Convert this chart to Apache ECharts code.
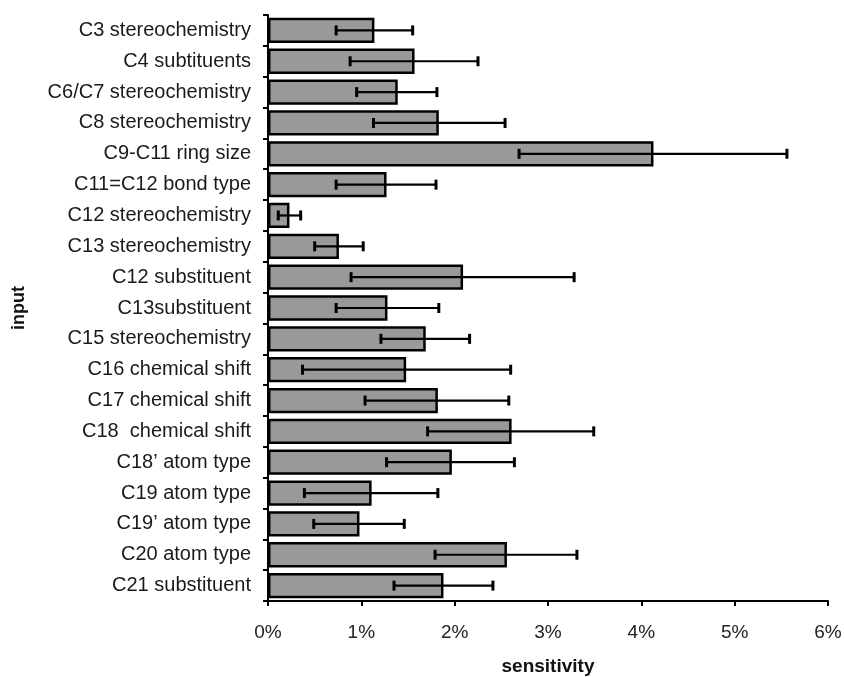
<!DOCTYPE html>
<html>
<head>
<meta charset="utf-8">
<script src="https://cdn.jsdelivr.net/npm/echarts@6/dist/echarts.min.js"></script>
<style>
  html, body { margin: 0; padding: 0; background: #fff; }
  #chart { width: 844px; height: 677px; }
</style>
</head>
<body>
<div id="chart"></div>
<script>
// inputs, top to bottom
const categories = [
  'C3 stereochemistry', 'C4 subtituents', 'C6/C7 stereochemistry', 'C8 stereochemistry',
  'C9-C11 ring size', 'C11=C12 bond type', 'C12 stereochemistry', 'C13 stereochemistry',
  'C12 substituent', 'C13substituent', 'C15 stereochemistry', 'C16 chemical shift',
  'C17 chemical shift', 'C18  chemical shift', 'C18\u2019 atom type', 'C19 atom type',
  'C19\u2019 atom type', 'C20 atom type', 'C21 substituent'
]
// sensitivity in %
const sensitivity = [1.14, 1.57, 1.39, 1.83, 4.13, 1.27, 0.23, 0.76, 2.09, 1.28,
  1.69, 1.48, 1.82, 2.61, 1.97, 1.11, 0.98, 2.56, 1.88]
const errLow = [0.73, 0.88, 0.95, 1.13, 2.69, 0.73, 0.11, 0.50, 0.89, 0.73,
  1.21, 0.37, 1.04, 1.71, 1.27, 0.39, 0.49, 1.79, 1.35]
const errHigh = [1.55, 2.25, 1.81, 2.54, 5.56, 1.80, 0.35, 1.02, 3.28, 1.83,
  2.16, 2.60, 2.58, 3.49, 2.64, 1.82, 1.46, 3.31, 2.41]
const xTicks = [0, 1, 2, 3, 4, 5, 6]

const chart = echarts.init(document.getElementById('chart'))
const fontFam = '"Liberation Sans", Arial, sans-serif'

const errData = categories.map((c, i) => [i, errLow[i], errHigh[i]])

const option = {
  animation: false,
  grid: { left: 268, right: 16, top: 15, bottom: 76, containLabel: false, outerBoundsMode: 'none' },
  xAxis: {
    type: 'value',
    min: xTicks[0],
    max: xTicks[xTicks.length - 1],
    interval: 1,
    name: 'sensitivity',
    nameLocation: 'middle',
    nameGap: 56,
    nameTextStyle: { fontFamily: fontFam, fontSize: 19, fontWeight: 'bold', color: '#111' },
    axisLine: { show: true, lineStyle: { color: '#000', width: 2 } },
    axisTick: { show: true, length: 5, lineStyle: { color: '#000', width: 2 } },
    axisLabel: {
      fontFamily: fontFam, fontSize: 19, color: '#222', margin: 22,
      formatter: v => v + '%'
    },
    splitLine: { show: false }
  },
  yAxis: {
    type: 'category',
    data: categories,
    inverse: true,
    name: 'input',
    nameLocation: 'middle',
    nameGap: 240,
    nameTextStyle: { fontFamily: fontFam, fontSize: 18, fontWeight: 'bold', color: '#111' },
    axisLine: { show: true, lineStyle: { color: '#000', width: 2 } },
    axisTick: { show: true, length: 5, lineStyle: { color: '#000', width: 2 } },
    axisLabel: { fontFamily: fontFam, fontSize: 20, color: '#1a1a1a', margin: 17 },
    splitLine: { show: false }
  },
  series: [
    {
      type: 'bar',
      data: sensitivity,
      barCategoryGap: '18%',
      itemStyle: { color: '#999999', borderColor: '#000', borderWidth: 2.5 }
    },
    {
      type: 'custom',
      data: errData,
      encode: { y: 0, x: [1, 2] },
      z: 10,
      renderItem: (params, api) => {
        const idx = api.value(0)
        const lo = api.coord([api.value(1), idx])
        const hi = api.coord([api.value(2), idx])
        const h = 5
        const bar = { stroke: '#000', lineWidth: 2.2 }
        const cap = { stroke: '#000', lineWidth: 3 }
        return {
          type: 'group',
          children: [
            { type: 'line', shape: { x1: lo[0], y1: lo[1], x2: hi[0], y2: hi[1] }, style: bar },
            { type: 'line', shape: { x1: lo[0], y1: lo[1] - h, x2: lo[0], y2: lo[1] + h }, style: cap },
            { type: 'line', shape: { x1: hi[0], y1: hi[1] - h, x2: hi[0], y2: hi[1] + h }, style: cap }
          ]
        }
      }
    }
  ]
}
chart.setOption(option)
</script>
</body>
</html>
